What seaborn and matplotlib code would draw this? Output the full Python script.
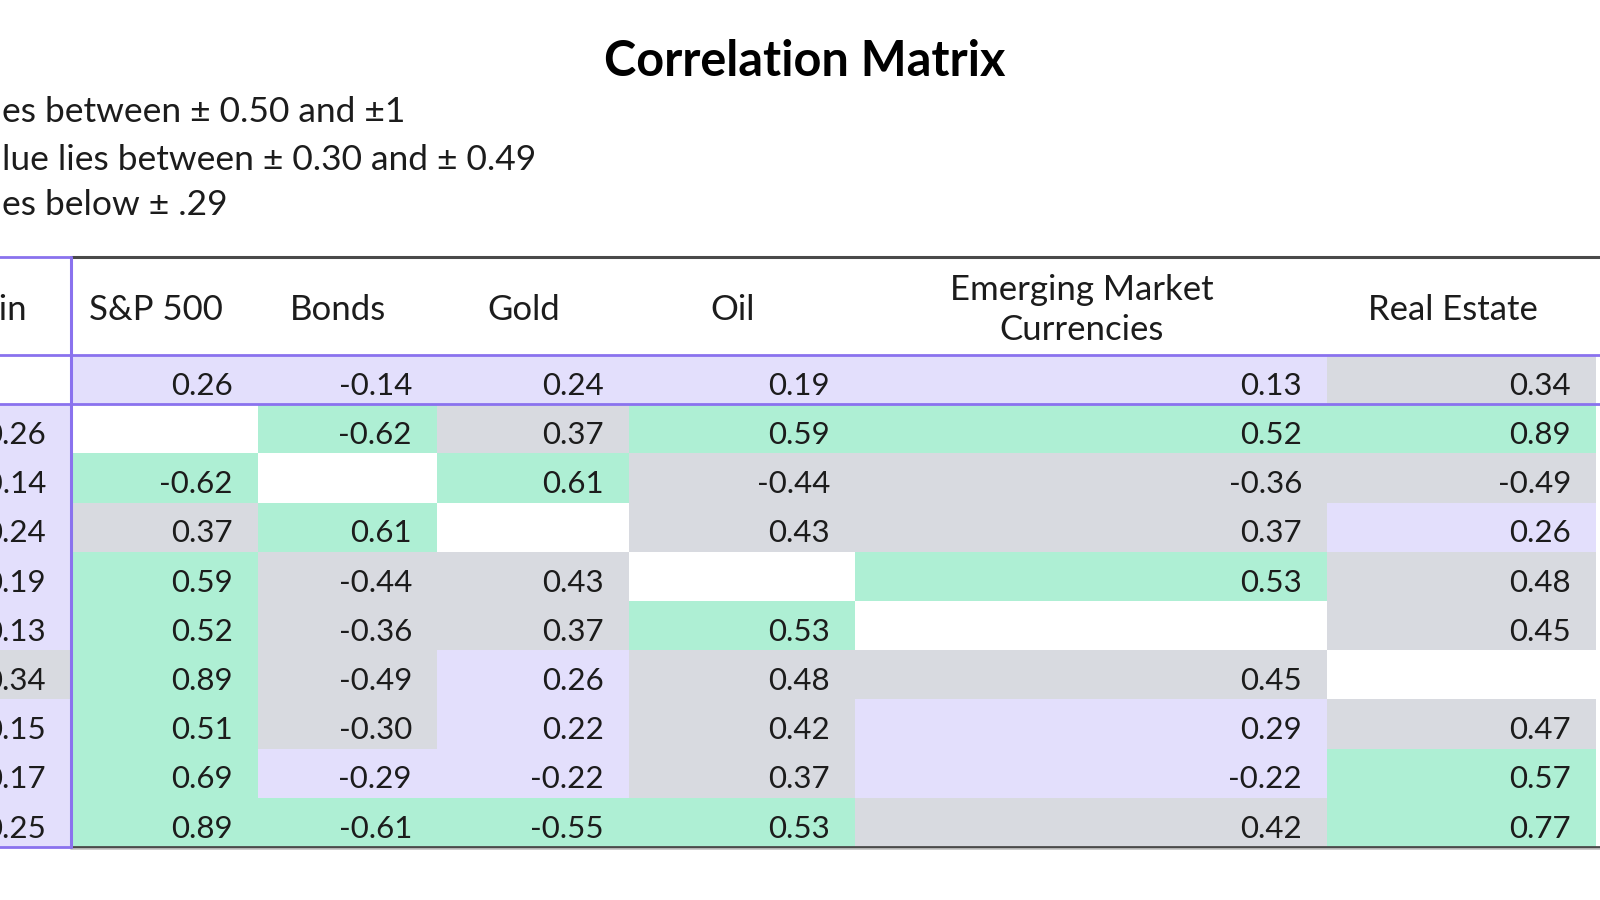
import numpy as np
import pandas as pd
import matplotlib.pyplot as plt
from matplotlib.colors import ListedColormap
import seaborn as sns

# Column headers (the first one, Bitcoin, is mostly cut off at the left edge)
assets = ["Bitcoin", "S&P 500", "Bonds", "Gold", "Oil",
          "Emerging Market\nCurrencies", "Real Estate"]
# row names beyond the 7 assets are cut off in the source picture
row_names = assets + ["Row 8", "Row 9", "Row 10"]

# correlation values, one list per column, read top to bottom
bitcoin = [np.nan, 0.26, -0.14, 0.24, 0.19, 0.13, 0.34, 0.15, 0.17, 0.25]
sp500 = [0.26, np.nan, -0.62, 0.37, 0.59, 0.52, 0.89, 0.51, 0.69, 0.89]
bonds = [-0.14, -0.62, np.nan, 0.61, -0.44, -0.36, -0.49, -0.30, -0.29, -0.61]
gold = [0.24, 0.37, 0.61, np.nan, 0.43, 0.37, 0.26, 0.22, -0.22, -0.55]
oil = [0.19, 0.59, -0.44, 0.43, np.nan, 0.53, 0.48, 0.42, 0.37, 0.53]
em_currencies = [0.13, 0.52, -0.36, 0.37, 0.53, np.nan, 0.45, 0.29, -0.22, 0.42]
real_estate = [0.34, 0.89, -0.49, 0.26, 0.48, 0.45, np.nan, 0.47, 0.57, 0.77]

legend_lines = ["es between ± 0.50 and ±1",
                "lue lies between ± 0.30 and ± 0.49",
                "es below ± .29"]

corr = pd.DataFrame(
    {a: v for a, v in zip(assets, [bitcoin, sp500, bonds, gold, oil,
                                   em_currencies, real_estate])},
    index=row_names)

# colour class: 0 weak (lavender), 1 moderate (grey), 2 strong (green)
mag = corr.abs().round(2)
klass = np.where(mag >= 0.5, 2, np.where(mag >= 0.3, 1, 0)).astype(float)
klass[corr.isna().values] = np.nan

LAVENDER = "#e3dffc"
GREY = "#d8dae0"
GREEN = "#aeefd4"
PURPLE = "#8a72ee"
DARK = "#4a4a4a"
TXT = "#1c1c1c"

sns.set_style("white")
plt.rcParams['font.family'] = ['Lato', 'DejaVu Sans']

W, H = 1600, 900
fig = plt.figure(figsize=(16, 9), dpi=100)

# pixel edges of the columns (table is cropped on both sides)
col_px = [-106, 71, 258, 437, 629, 855, 1327, 1596, 1866]
top_px, bottom_px = 355, 847
n_rows = len(row_names)
row_h = (bottom_px - top_px) / n_rows
right_px = 1600

ax = fig.add_axes([col_px[0] / W, 1 - bottom_px / H,
                   (right_px - col_px[0]) / W, (bottom_px - top_px) / H])

sns.heatmap(klass, cmap=ListedColormap([LAVENDER, GREY, GREEN]),
            vmin=-0.5, vmax=2.5, cbar=False, ax=ax,
            xticklabels=False, yticklabels=False)

# uneven column widths through a piecewise linear x scale
idx = np.arange(len(col_px), dtype=float)
px = np.array(col_px, dtype=float)
ax.set_xscale('function', functions=(lambda x: np.interp(x, idx, px),
                                     lambda p: np.interp(p, px, idx)))
ax.set_xlim(0, 7 + (right_px - col_px[7]) / (col_px[8] - col_px[7]))
ax.set_ylim(n_rows, 0)
ax.set_xticks([])
ax.set_yticks([])
for s in ax.spines.values():
    s.set_visible(False)

# cell values, right aligned
for j, a in enumerate(assets):
    for i, r in enumerate(row_names):
        v = corr.loc[r, a]
        if np.isnan(v):
            continue
        ax.annotate(f"{v:.2f}", xy=(j + 1, i + 1), xytext=(-25, 9.5),
                    textcoords='offset pixels', ha='right', va='baseline',
                    fontsize=22.5, color=TXT)

# header labels
header_h = (top_px - 257) / row_h
for j, a in enumerate(assets):
    ax.annotate(a, xy=(j + 0.5, 0), xytext=(-9, 45),
                textcoords='offset pixels', ha='center', va='center',
                multialignment='center', linespacing=1.3,
                fontsize=25, color=TXT, annotation_clip=False)

# borders
x_end = ax.get_xlim()[1]
ax.plot([1, x_end], [-header_h, -header_h], color=DARK, lw=2.2, clip_on=False)
ax.plot([1, x_end], [n_rows, n_rows], color=DARK, lw=2.0, clip_on=False)
ax.plot([1, x_end], [n_rows + 0.04, n_rows + 0.04], color="#c4c4c4", lw=1.2,
        clip_on=False)
ax.plot([0, 1], [-header_h, -header_h], color=PURPLE, lw=2, clip_on=False)
ax.plot([0, 1], [n_rows, n_rows], color=PURPLE, lw=2, clip_on=False)
ax.plot([0, x_end], [0, 0], color=PURPLE, lw=2, clip_on=False)
ax.plot([0, x_end], [1, 1], color=PURPLE, lw=2, clip_on=False)
ax.plot([1, 1], [-header_h, n_rows], color=PURPLE, lw=2.2, clip_on=False)

# title and colour key
fig.text(805 / W, 1 - 61 / H, "Correlation Matrix", ha='center', va='center',
         fontsize=35, fontweight='bold', color='black')
for line, y in zip(legend_lines, [112, 160, 205]):
    fig.text(2 / W, 1 - y / H, line, ha='left', va='center',
             fontsize=25.5, color=TXT)

fig.savefig('out.png', dpi=100)
